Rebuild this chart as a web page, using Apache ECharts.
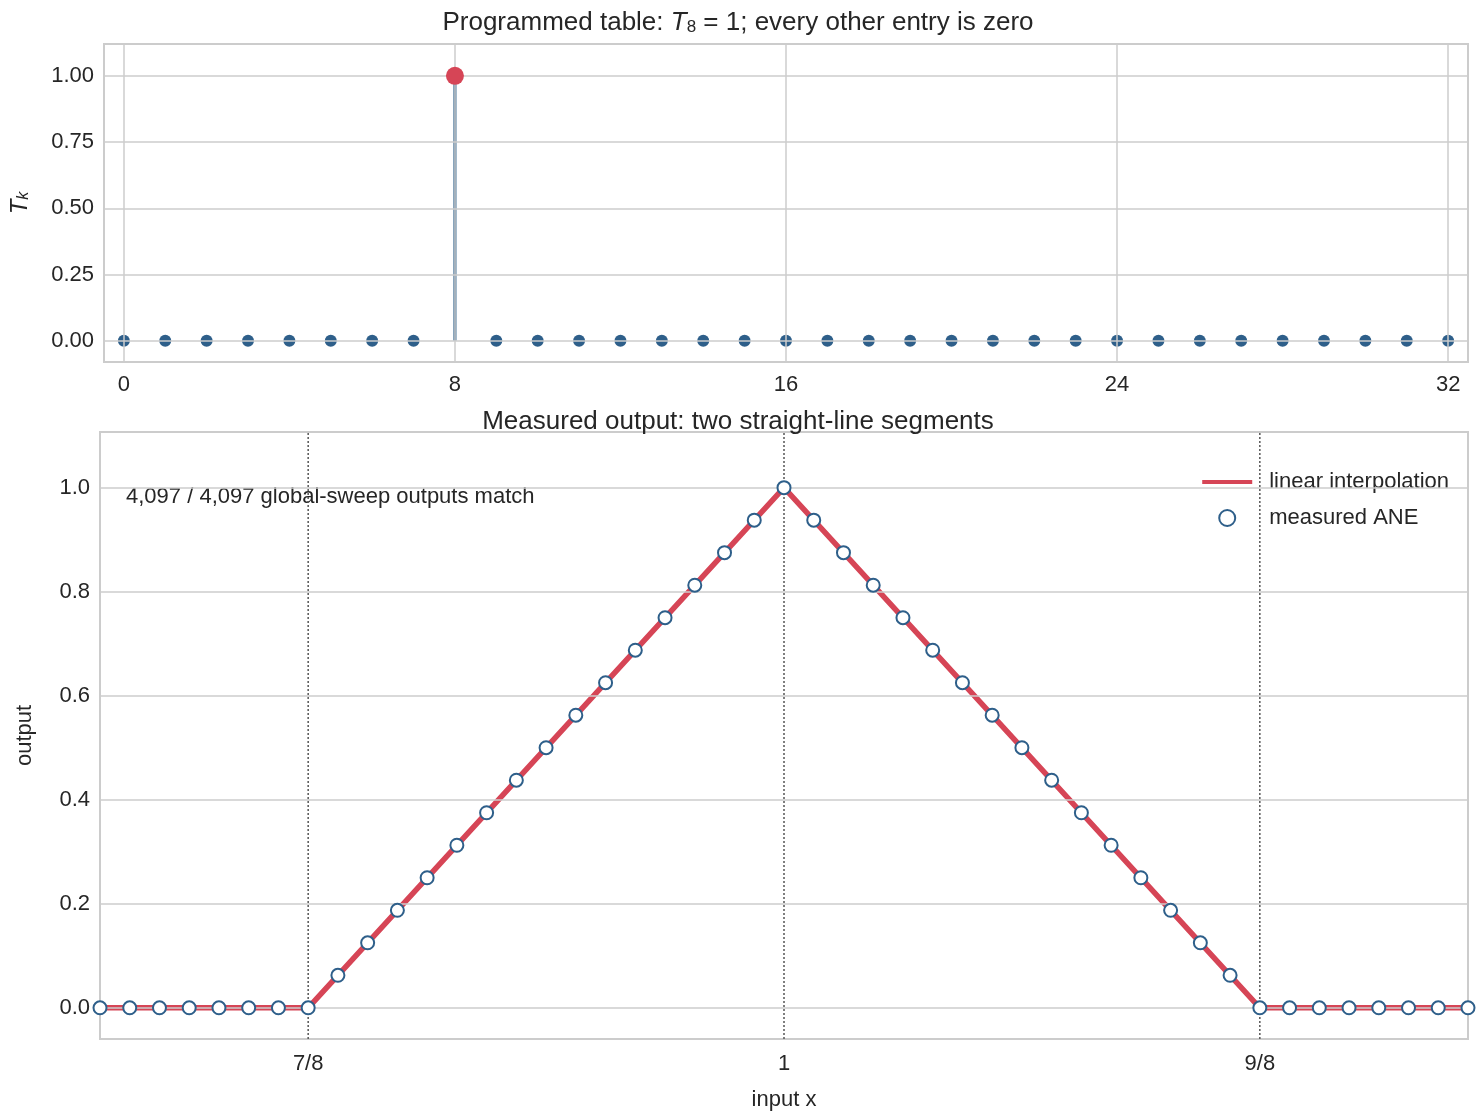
<!DOCTYPE html>
<html><head><meta charset="utf-8">
<script src="https://cdn.jsdelivr.net/npm/echarts@6/dist/echarts.min.js"></script>
<style>html,body{margin:0;padding:0;background:#fff}#c{width:1476px;height:1116px}</style>
</head><body><div id="c"></div>
<script>
// Top panel: programmed table T_k, k = 0..32
const tableK = Array.from({length:33},(_,i)=>i);
const tableT = [0,0,0,0,0,0,0,0,1,0,0,0,0,0,0,0,0,0,0,0,0,0,0,0,0,0,0,0,0,0,0,0,0];
const topXTicks = [0,8,16,24,32];
const topYTicks = [0,0.25,0.5,0.75,1.0];
// Bottom panel: measured points at x = n/128, n = 105..151
const measN = [105,106,107,108,109,110,111,112,113,114,115,116,117,118,119,120,121,122,123,124,125,126,127,128,129,130,131,132,133,134,135,136,137,138,139,140,141,142,143,144,145,146,147,148,149,150,151];
const measY = [0,0,0,0,0,0,0,0,
  0.0625,0.125,0.1875,0.25,0.3125,0.375,0.4375,0.5,0.5625,0.625,0.6875,0.75,0.8125,0.875,0.9375,1.0,
  0.9375,0.875,0.8125,0.75,0.6875,0.625,0.5625,0.5,0.4375,0.375,0.3125,0.25,0.1875,0.125,0.0625,0,
  0,0,0,0,0,0,0];
const interpX = [0.8203125,0.875,1.0,1.125,1.1796875];
const interpY = [0,0,1,0,0];
const botXTicks = [0.875,1.0,1.125];
const botXLabels = {0.875:'7/8',1:'1',1.125:'9/8'};
const botYTicks = [0,0.2,0.4,0.6,0.8,1.0];
const botYMin = -0.06, botYMax = 1.107;

const txt='#262626', grid='#cccccc', blue='#2e5f8a', red='#d64556';
const font='Arial, Liberation Sans, sans-serif';
const chart = echarts.init(document.getElementById('c'));
const hl=(v)=>({yAxis:v}), vl=(v)=>({xAxis:v});
const gl={silent:true,symbol:'none',label:{show:false},lineStyle:{color:grid,width:1.5,type:'solid'},emphasis:{disabled:true}};
const dotted = botXTicks.map(x=>({type:'line',xAxisIndex:1,yAxisIndex:1,silent:true,symbol:'none',z:2,
  lineStyle:{color:'#555',width:1.5,type:[2,2]},data:[[x,botYMin],[x,botYMax]]}));
chart.setOption({
  animation:false,
  textStyle:{fontFamily:font,color:txt},
  title:[
    {text:'Programmed table: {i|T}{s|8} = 1; every other entry is zero',left:'center',top:4,
     textStyle:{fontSize:26,fontWeight:'normal',color:txt,rich:{i:{fontSize:26,fontStyle:'italic',color:txt},s:{fontSize:17,padding:[10,0,0,0],color:txt}}}},
    {text:'Measured output: two straight-line segments',left:'center',top:404,textStyle:{fontSize:26,fontWeight:'normal',color:txt}}
  ],
  grid:[
    {left:100,right:8,top:44,height:318,show:true,borderColor:grid,borderWidth:2,backgroundColor:'#fff'},
    {left:100,right:8,top:432,height:610,show:true,borderColor:grid,borderWidth:2,backgroundColor:'#fff'}
  ],
  legend:{right:22,top:466,orient:'vertical',itemGap:14,itemWidth:50,itemHeight:16,
    textStyle:{fontSize:22,color:txt,padding:[0,0,0,12]},
    data:[{name:'linear interpolation',icon:'path://M0,6 L50,6 L50,10 L0,10 Z'},{name:'measured ANE'}]},
  graphic:[{type:'text',left:126,top:486,style:{text:'4,097 / 4,097 global-sweep outputs match',fontSize:22,fill:txt,fontFamily:font}}],
  xAxis:[
    {type:'value',gridIndex:0,min:-0.48,max:32.48,axisLine:{show:false},axisTick:{show:false},splitLine:{show:false},
     axisLabel:{customValues:topXTicks,fontSize:22,color:txt,margin:12}},
    {type:'value',gridIndex:1,min:interpX[0],max:interpX[4],axisLine:{show:false},axisTick:{show:false},splitLine:{show:false},
     name:'input x',nameLocation:'middle',nameGap:50,nameTextStyle:{fontSize:22,color:txt},
     axisLabel:{customValues:botXTicks,fontSize:22,color:txt,margin:14,formatter:v=>botXLabels[v]}}
  ],
  yAxis:[
    {type:'value',gridIndex:0,min:-0.08,max:1.12,axisLine:{show:false},axisTick:{show:false},splitLine:{show:false},
     axisLabel:{customValues:topYTicks,fontSize:22,color:txt,margin:10,formatter:v=>v.toFixed(2)},
     name:'{i|T}{s|k}',nameLocation:'middle',nameGap:72,nameRotate:90,
     nameTextStyle:{fontSize:24,rich:{i:{fontSize:24,fontStyle:'italic',color:txt},s:{fontSize:16,fontStyle:'italic',color:txt,padding:[8,0,0,0]}}}},
    {type:'value',gridIndex:1,min:botYMin,max:botYMax,axisLine:{show:false},axisTick:{show:false},splitLine:{show:false},
     axisLabel:{customValues:botYTicks,fontSize:22,color:txt,margin:10,formatter:v=>v.toFixed(1)},
     name:'output',nameLocation:'middle',nameGap:64,nameTextStyle:{fontSize:22,color:txt}}
  ],
  series:[
    {type:'line',xAxisIndex:0,yAxisIndex:0,data:[],silent:true,
     markLine:Object.assign({},gl,{data:topXTicks.map(vl).concat(topYTicks.map(hl))})},
    {type:'line',xAxisIndex:1,yAxisIndex:1,data:[],silent:true,
     markLine:Object.assign({},gl,{data:botYTicks.map(hl)})},
    ...dotted,
    {type:'bar',xAxisIndex:0,yAxisIndex:0,barWidth:3,itemStyle:{color:blue,opacity:1},z:3,silent:true,
     data:tableK.map((k,i)=>[k,tableT[i]]).filter(d=>d[1]!==0)},
    {type:'scatter',xAxisIndex:0,yAxisIndex:0,symbolSize:12,itemStyle:{color:blue,opacity:1},z:4,silent:true,
     data:tableK.map((k,i)=>[k,tableT[i]]).filter(d=>d[1]===0)},
    {type:'scatter',xAxisIndex:0,yAxisIndex:0,symbolSize:18,itemStyle:{color:red,opacity:1},z:5,silent:true,
     data:tableK.map((k,i)=>[k,tableT[i]]).filter(d=>d[1]!==0)},
    {name:'linear interpolation',type:'line',xAxisIndex:1,yAxisIndex:1,showSymbol:false,symbol:'none',silent:true,
     lineStyle:{color:red,width:5.5},itemStyle:{color:red},z:3,
     data:interpX.map((x,i)=>[x,interpY[i]])},
    {name:'measured ANE',type:'scatter',xAxisIndex:1,yAxisIndex:1,symbolSize:13,z:5,silent:true,
     itemStyle:{color:'#fff',borderColor:blue,borderWidth:2,opacity:1},
     data:measN.map((n,i)=>[n/128,measY[i]])}
  ]
});
</script></body></html>
